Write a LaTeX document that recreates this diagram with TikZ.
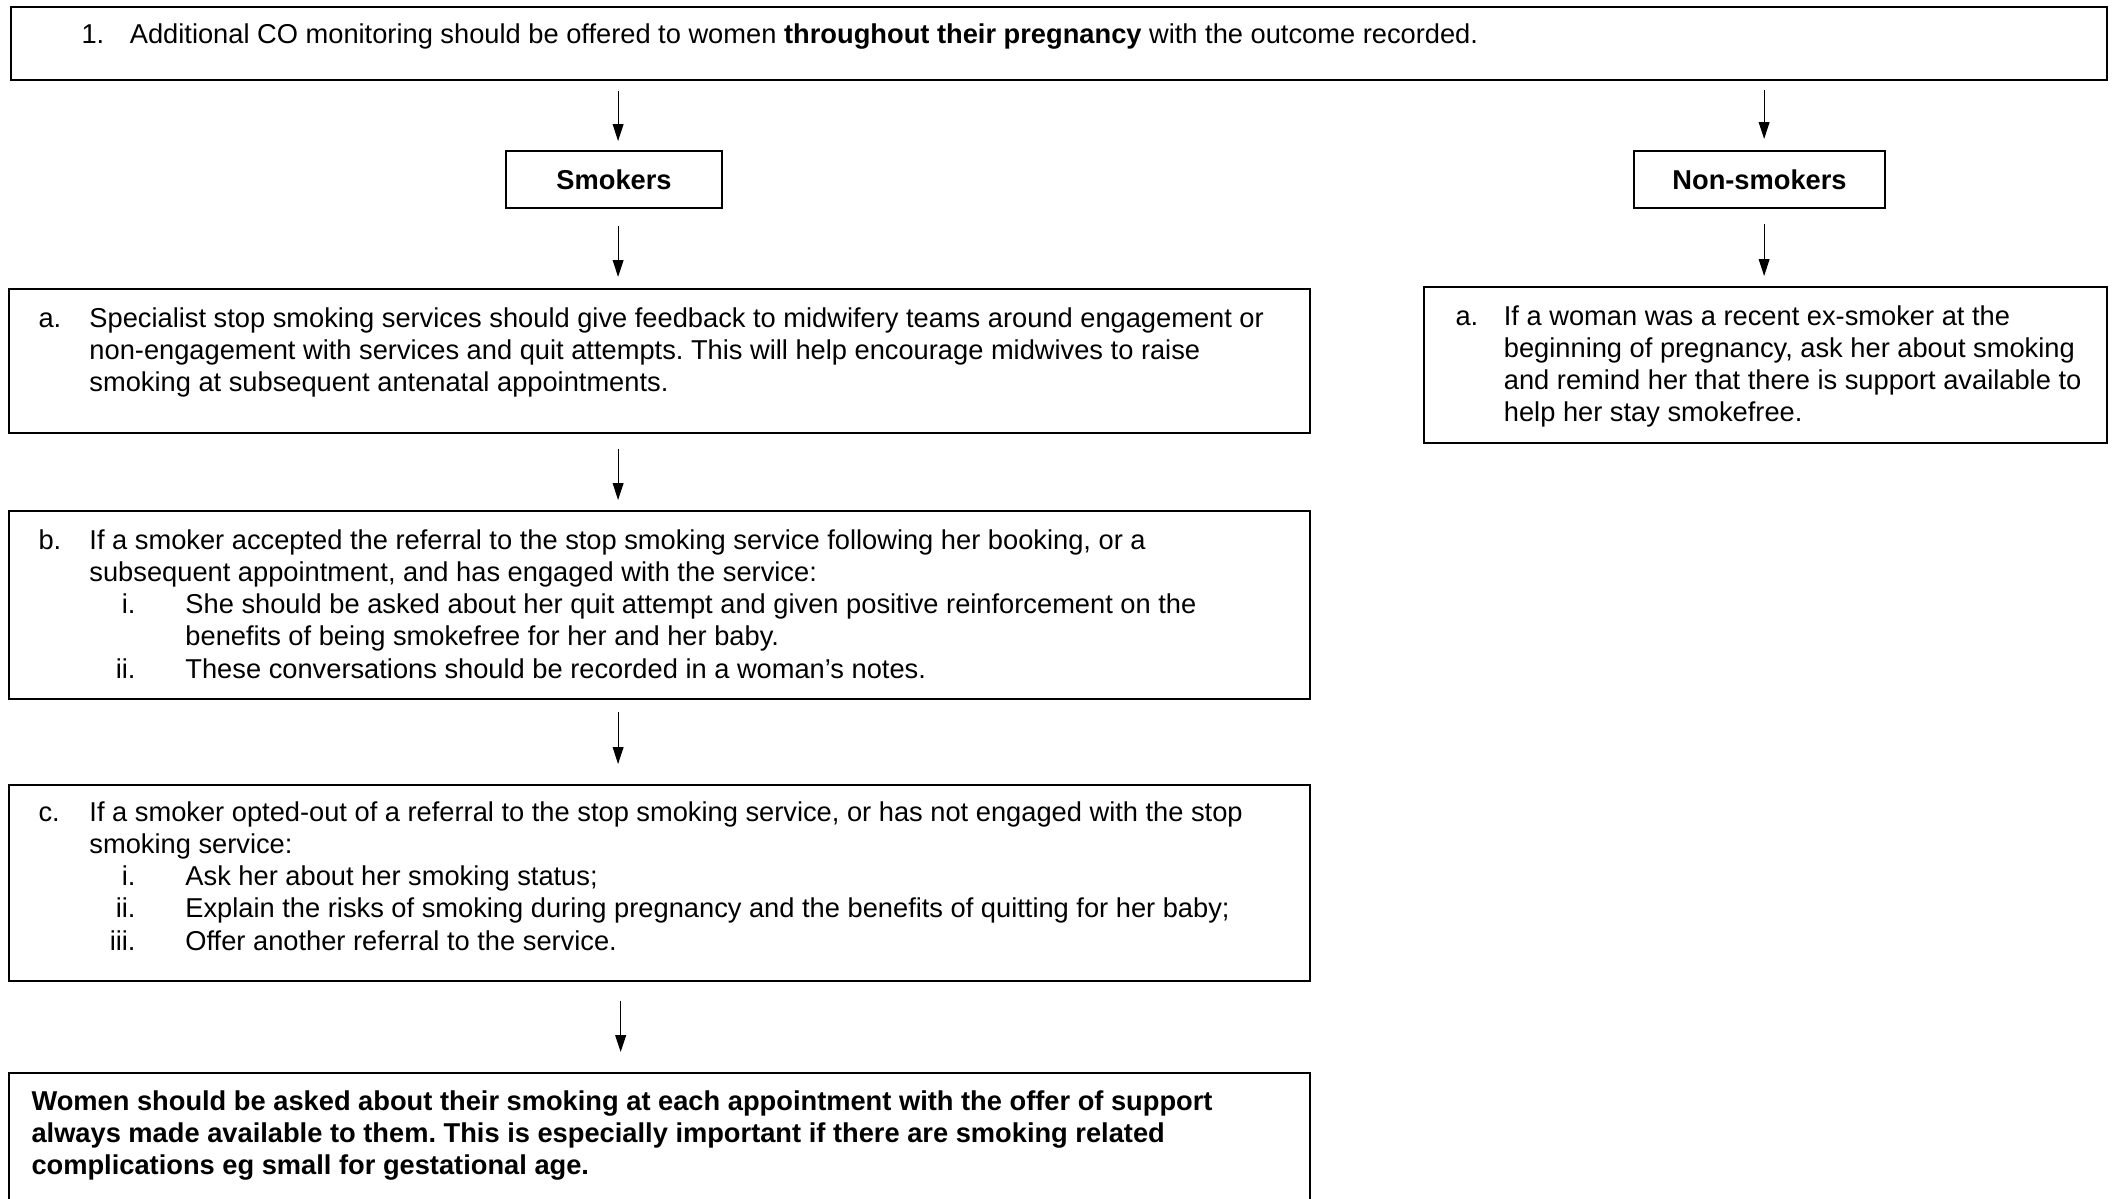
\documentclass[tikz,border=0pt]{standalone}
\usepackage{fontspec}
\setmainfont{Liberation Sans}
\usetikzlibrary{arrows.meta,fit}
\frenchspacing
\newcommand\lab[2][19.9pt]{\makebox[#1][l]{#2}}
\newcommand\cont{\hspace*{19.9pt}}
\newcommand\contr{\hspace*{18.9pt}}
\newcommand\subi[1]{\makebox[37.9pt][r]{#1}\hspace*{19.5pt}}
\newcommand\subc{\hspace*{57.4pt}}
\begin{document}
\begin{tikzpicture}[x=0.390625pt,y=-0.390625pt,
  box/.style={draw, line width=0.8pt, inner sep=0pt},
  lbl/.style={inner sep=0pt, font=\fontsize{10.65}{12.6}\selectfont\bfseries},
  txt/.style={anchor=base west, inner sep=0pt, font=\fontsize{10.65}{12.6}\selectfont},
  arr/.style={-{Triangle[length=6.6pt,width=4.2pt]}, line width=0.45pt}]
\useasboundingbox (0,0) rectangle (2116,1198);
% boxes
\node[box, fit={(11,7) (2107,80)}] (top) {};
\node[box, fit={(506,151) (722,208)}] (smk) {};
\node[box, fit={(1634,151) (1885,208)}] (ns) {};
\node[box, fit={(9,289) (1310,433)}] (a) {};
\node[box, fit={(9,511) (1310,699)}] (b) {};
\node[box, fit={(9,785) (1310,981)}] (c) {};
\node[box, fit={(9,1073) (1310,1210)}] (f) {};
\node[box, fit={(1424,287) (2107,443)}] (ra) {};
% labels
\node[lbl] (smkt) at (smk.center) {Smokers};
\node[lbl] (nst) at (ns.center) {Non-smokers};
% texts
\node[txt] (t1) at (81,44) {\lab[18.9pt]{1.}Additional CO monitoring should be offered to women \textbf{throughout their pregnancy} with the outcome recorded.};
\node[txt] (ta) at (38,327) {\vtop{
\hbox{\lab{a.}Specialist stop smoking services should give feedback to midwifery teams around engagement or}
\hbox{\cont non-engagement with services and quit attempts. This will help encourage midwives to raise}
\hbox{\cont smoking at subsequent antenatal appointments.}}};
\node[txt] (tb) at (38,549) {\vtop{
\hbox{\lab{b.}If a smoker accepted the referral to the stop smoking service following her booking, or a}
\hbox{\cont subsequent appointment, and has engaged with the service:}
\hbox{\subi{i.}She should be asked about her quit attempt and given positive reinforcement on the}
\hbox{\subc benefits of being smokefree for her and her baby.}
\hbox{\subi{ii.}These conversations should be recorded in a woman’s notes.}}};
\node[txt] (tc) at (38,821) {\vtop{
\hbox{\lab{c.}If a smoker opted-out of a referral to the stop smoking service, or has not engaged with the stop}
\hbox{\cont smoking service:}
\hbox{\subi{i.}Ask her about her smoking status;}
\hbox{\subi{ii.}Explain the risks of smoking during pregnancy and the benefits of quitting for her baby;}
\hbox{\subi{iii.}Offer another referral to the service.}}};
\node[txt, font=\fontsize{10.65}{12.6}\selectfont\bfseries] (tf) at (31,1110) {\vtop{
\hbox{Women should be asked about their smoking at each appointment with the offer of support}
\hbox{always made available to them. This is especially important if there are smoking related}
\hbox{complications eg small for gestational age.}}};
\node[txt] (tr) at (1455,325) {\vtop{
\hbox{\lab[18.9pt]{a.}If a woman was a recent ex-smoker at the}
\hbox{\contr beginning of pregnancy, ask her about smoking}
\hbox{\contr and remind her that there is support available to}
\hbox{\contr help her stay smokefree.}}};
% arrow columns
\coordinate (lx) at ([xshift=1.6pt]smk.center);
\coordinate (lx2) at ([xshift=2.6pt]smk.center);
\coordinate (rx) at ([xshift=1.8pt]ns.center);
% arrows
\draw[arr, shorten <=3.9pt, shorten >=3.5pt] (lx |- top.south) -- (lx |- smk.north);
\draw[arr, shorten <=6.6pt, shorten >=4.3pt] (lx |- smk.south) -- (lx |- a.north);
\draw[arr, shorten <=5.9pt, shorten >=3.9pt] (lx |- a.south) -- (lx |- b.north);
\draw[arr, shorten <=4.7pt, shorten >=7.8pt] (lx |- b.south) -- (lx |- c.north);
\draw[arr, shorten <=7.4pt, shorten >=7.8pt] (lx2 |- c.south) -- (lx2 |- f.north);
\draw[arr, shorten <=3.5pt, shorten >=4.3pt] (rx |- top.south) -- (rx |- ns.north);
\draw[arr, shorten <=5.9pt, shorten >=3.9pt] (rx |- ns.south) -- (rx |- ra.north);
\end{tikzpicture}
\end{document}
